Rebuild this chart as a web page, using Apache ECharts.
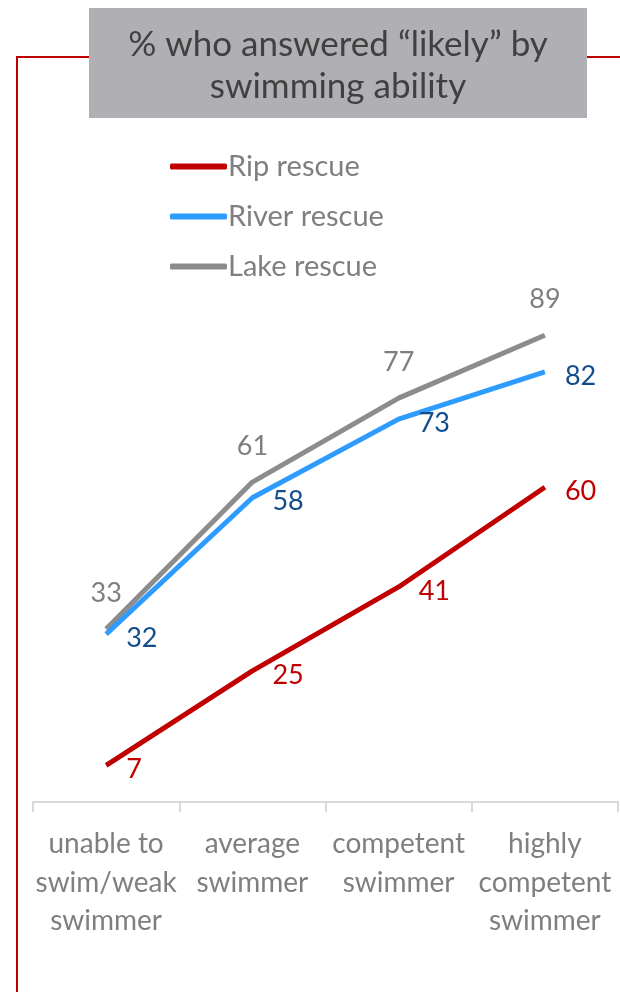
<!DOCTYPE html>
<html><head><meta charset="utf-8">
<script src="https://cdn.jsdelivr.net/npm/echarts@6/dist/echarts.min.js"></script>
<style>html,body{margin:0;padding:0;background:#fff}#c{width:620px;height:992px}</style>
</head><body><div id="c"></div>
<script>
var categories = ["unable to\nswim/weak\nswimmer", "average\nswimmer", "competent\nswimmer", "highly\ncompetent\nswimmer"];
var ripRescue = [7, 25, 41, 60];
var riverRescue = [32, 58, 73, 82];
var lakeRescue = [33, 61, 77, 89];
var titleText = "% who answered \u201clikely\u201d by\nswimming ability";
var FONT = "Lato, 'Open Sans', sans-serif";

var chart = echarts.init(document.getElementById('c'), null, {renderer: 'canvas'});
function lbl(color, pos, dist) {
  return {show: true, position: pos, distance: dist, color: color, fontSize: 27, fontFamily: FONT};
}
chart.setOption({
  animation: false,
  backgroundColor: '#fff',
  graphic: [
    {type: 'rect', z: 1, shape: {x: 17, y: 57, width: 640, height: 980}, style: {fill: 'none', stroke: '#c00000', lineWidth: 2}},
    {type: 'rect', z: 2, shape: {x: 89, y: 8, width: 498, height: 110}, style: {fill: '#b0b0b4'}},
    {type: 'text', z: 3, x: 338, y: 66, style: {text: titleText, fill: '#404040', font: '35px ' + FONT, align: 'center', verticalAlign: 'middle', lineHeight: 42}}
  ],
  legend: {
    orient: 'vertical', left: 165, top: 147, itemGap: 21, itemWidth: 57, itemHeight: 6,
    icon: 'roundRect',
    textStyle: {color: '#7f7f7f', fontSize: 29, fontFamily: FONT, padding: [0, 0, 0, -4]},
    data: ['Rip rescue', 'River rescue', 'Lake rescue']
  },
  grid: {left: 33, right: 2, top: 277.5, bottom: 190, containLabel: false},
  xAxis: {
    type: 'category', data: categories, boundaryGap: true,
    axisLine: {lineStyle: {color: '#d9d9d9', width: 2}},
    axisTick: {show: true, length: 10, lineStyle: {color: '#d9d9d9', width: 2}},
    axisLabel: {color: '#7f7f7f', fontSize: 28, fontFamily: FONT, lineHeight: 38.5, margin: 23, interval: 0}
  },
  yAxis: {type: 'value', min: 0, max: 100, show: false, splitLine: {show: false}},
  series: [
    {name: 'Lake rescue', type: 'line', data: lakeRescue, symbol: 'circle', symbolSize: 0, showSymbol: true, z: 3,
     lineStyle: {color: '#8c8c8c', width: 5}, itemStyle: {color: '#8c8c8c'},
     label: lbl('#7f7f7f', 'top', 22)},
    {name: 'River rescue', type: 'line', data: riverRescue, symbol: 'circle', symbolSize: 0, showSymbol: true, z: 4,
     lineStyle: {color: '#2e9bff', width: 5}, itemStyle: {color: '#2e9bff'},
     label: Object.assign(lbl('#114d8c', 'right', 20), {offset: [0, 4]})},
    {name: 'Rip rescue', type: 'line', data: ripRescue, symbol: 'circle', symbolSize: 0, showSymbol: true, z: 5,
     lineStyle: {color: '#c00000', width: 5}, itemStyle: {color: '#c00000'},
     label: Object.assign(lbl('#c00000', 'right', 20), {offset: [0, 4]})}
  ]
});
</script></body></html>
